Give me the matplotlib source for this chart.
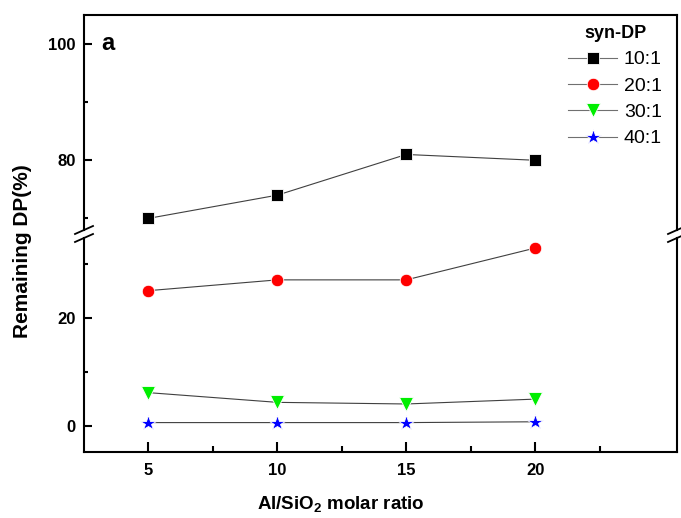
import matplotlib
matplotlib.use("Agg")
import matplotlib.pyplot as plt
from matplotlib.lines import Line2D

plt.rcParams['font.family'] = ['Liberation Sans', 'DejaVu Sans']
plt.rcParams['mathtext.fontset'] = 'custom'
plt.rcParams['mathtext.rm'] = 'Liberation Sans:bold'
plt.rcParams['mathtext.bf'] = 'Liberation Sans:bold'

ratio = [5, 10, 15, 20]
dp_10 = [70.0, 74.0, 81.0, 80.0]
dp_20 = [25.0, 27.0, 27.0, 32.9]
dp_30 = [6.1, 4.3, 4.0, 4.9]
dp_40 = [0.55, 0.55, 0.55, 0.7]
legend_labels = ['10:1', '20:1', '30:1', '40:1']

W, H = 681, 518
fig = plt.figure(figsize=(W/100, H/100), dpi=100)

def fx(px):
    return px / W

def fy(py):
    return 1 - py / H

L, R = 84, 677
up_top, up_bot = 15, 230
lo_top, lo_bot = 238, 452

ax_up = fig.add_axes([fx(L), fy(up_bot), fx(R) - fx(L), fy(up_top) - fy(up_bot)])
ax_lo = fig.add_axes([fx(L), fy(lo_bot), fx(R) - fx(L), fy(lo_top) - fy(lo_bot)])

line_kw = dict(color='#404040', lw=0.8, mew=0.6)
h1, = ax_up.plot(ratio, dp_10, marker='s', ms=8, mfc='black', mec='white', **line_kw)
h2, = ax_lo.plot(ratio, dp_20, marker='o', ms=9, mfc='red', mec='white', **line_kw)
h3, = ax_lo.plot(ratio, dp_30, marker='v', ms=10, mfc='#00ee00', mec='white', **line_kw)
h4, = ax_lo.plot(ratio, dp_40, marker='*', ms=11.5, mfc='blue', mec='white', **line_kw)

for ax in (ax_up, ax_lo):
    ax.set_xlim(2.5, 25.5)
    for s in ax.spines.values():
        s.set_linewidth(1.5)
    ax.tick_params(direction='in', width=1.5, length=6, labelsize=12, pad=6)
    ax.tick_params(which='minor', direction='in', width=1.5, length=3)

ax_up.set_ylim(68.0, 105.0)
ax_up.set_yticks([80, 100])
ax_up.set_yticks([70, 90], minor=True)
ax_up.set_xticks([])
ax_up.spines['bottom'].set_visible(False)
ax_up.tick_params(axis='x', which='both', bottom=False, labelbottom=False)

ax_lo.set_ylim(-4.9, 34.76)
ax_lo.set_yticks([0, 20])
ax_lo.set_yticks([10, 30], minor=True)
ax_lo.set_xticks([5, 10, 15, 20])
ax_lo.set_xticks([7.5, 12.5, 17.5, 22.5], minor=True)
ax_lo.spines['top'].set_visible(False)
ax_lo.tick_params(axis='x', which='major', length=7, pad=8)
ax_lo.tick_params(axis='x', which='minor', length=4)
ax_lo.tick_params(axis='y', which='both', right=False)
ax_up.tick_params(axis='y', which='both', right=False)

for lab in ax_up.get_yticklabels() + ax_lo.get_yticklabels() + ax_lo.get_xticklabels():
    lab.set_fontweight('bold')
    lab.set_fontsize(12)

# break marks
for xs in (L, R):
    for yc in (230, 238):
        fig.add_artist(Line2D([fx(xs - 9), fx(xs + 9)], [fy(yc + 4), fy(yc - 4)],
                              color='black', lw=1.3, transform=fig.transFigure))

fig.text(fx(23), fy(251), 'Remaining DP(%)', rotation=90, ha='center', va='center',
         fontsize=15, fontweight='bold')
fig.text(fx(341), fy(505), r'Al/SiO$_\mathbf{2}$ molar ratio', ha='center', va='center',
         fontsize=13.5, fontweight='bold')
fig.text(fx(101), fy(50), 'a', fontsize=17, fontweight='bold', ha='left', va='baseline')

leg = ax_up.legend([h1, h2, h3, h4], legend_labels, loc='upper right',
                   bbox_to_anchor=(fx(662), fy(25)), bbox_transform=fig.transFigure,
                   frameon=False, fontsize=14, title='syn-DP',
                   title_fontproperties={'weight': 'bold', 'size': 13},
                   handlelength=2.5, handletextpad=0.35, labelspacing=0.45,
                   borderpad=0, borderaxespad=0)
for ln in leg.get_lines():
    ln.set_color('#707070')

fig.savefig('out.png', dpi=100, facecolor='white')
